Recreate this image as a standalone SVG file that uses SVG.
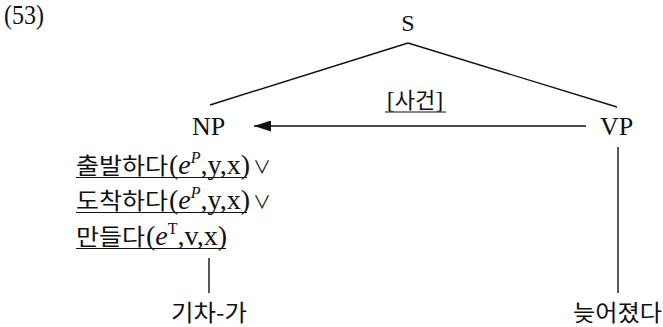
<svg xmlns="http://www.w3.org/2000/svg" width="663" height="327" viewBox="0 0 663 327">
  <style>
    .lat { font-family: "Liberation Serif", "Times New Roman", serif; fill: #111; }
    .kr { font-family: "Noto Sans CJK KR", "Noto Sans", sans-serif; fill: #111; }
    .it { font-style: italic; }
    .edge { stroke: #111; stroke-width: 1.4; fill: none; }
    .ul { stroke: #111; stroke-width: 1.2; }
  </style>
  <defs>
    <marker id="head" viewBox="0 0 17 11" refX="17" refY="5.5" markerWidth="17" markerHeight="11" markerUnits="userSpaceOnUse" orient="auto">
      <path d="M0,0 L17,5.5 L0,11 Z" fill="#111"/>
    </marker>
  </defs>
  <rect width="663" height="327" fill="#fff"/>

  <!-- example number -->
  <g id="num">
    <text class="lat" x="4" y="24" font-size="28" textLength="40" lengthAdjust="spacingAndGlyphs">(53)</text>
  </g>

  <!-- tree nodes -->
  <g id="node-S">
    <text class="lat" x="408" y="31" font-size="24" text-anchor="middle">S</text>
  </g>
  <g id="node-NP">
    <text class="lat" x="192" y="135" font-size="26">NP</text>
  </g>
  <g id="node-VP">
    <text class="lat" x="600" y="135" font-size="26">VP</text>
  </g>

  <!-- semantic features under NP -->
  <g id="np-features">
    <text class="kr" x="76" y="174" font-size="23" textLength="92" lengthAdjust="spacingAndGlyphs">출발하다</text>
    <text class="lat" x="169" y="174" font-size="28">(<tspan class="it">e</tspan><tspan class="it" font-size="16" dy="-11">P</tspan><tspan dy="11">,y,x)</tspan></text>
    <text class="kr" x="253" y="174" font-size="18">∨</text>
    <line class="ul" x1="76" y1="177.5" x2="247" y2="177.5"/>

    <text class="kr" x="76" y="209" font-size="23" textLength="92" lengthAdjust="spacingAndGlyphs">도착하다</text>
    <text class="lat" x="169" y="209" font-size="28">(<tspan class="it">e</tspan><tspan class="it" font-size="16" dy="-11">P</tspan><tspan dy="11">,y,x)</tspan></text>
    <text class="kr" x="253" y="209" font-size="18">∨</text>
    <line class="ul" x1="76" y1="212.5" x2="247" y2="212.5"/>

    <text class="kr" x="76" y="245" font-size="23" textLength="69" lengthAdjust="spacingAndGlyphs">만들다</text>
    <text class="lat" x="146" y="245" font-size="28">(<tspan class="it">e</tspan><tspan font-size="16" dy="-11">T</tspan><tspan dy="11">,v,x)</tspan></text>
    <line class="ul" x1="76" y1="248.5" x2="226" y2="248.5"/>
  </g>

  <!-- leaves -->
  <g id="leaf-NP">
    <text class="kr" x="171" y="321" font-size="23" textLength="76" lengthAdjust="spacingAndGlyphs">기차-가</text>
  </g>
  <g id="leaf-VP">
    <text class="kr" x="573" y="321" font-size="23" textLength="89" lengthAdjust="spacingAndGlyphs">늦어졌다</text>
  </g>

  <!-- relation label -->
  <g id="rel-label">
    <text x="415" y="108" text-anchor="middle"><tspan class="lat" font-size="24">[</tspan><tspan class="kr" font-size="22">사건</tspan><tspan class="lat" font-size="24">]</tspan></text>
    <line class="ul" x1="385" y1="112" x2="446" y2="112"/>
  </g>

  <!-- connectors -->
  <g id="connectors">
    <line class="edge" x1="408" y1="43" x2="210" y2="105"/>
    <line class="edge" x1="408" y1="43" x2="617" y2="107"/>
    <line class="edge" x1="586" y1="126" x2="254" y2="126" marker-end="url(#head)"/>
    <line class="edge" x1="618" y1="147" x2="618" y2="293"/>
    <line class="edge" x1="209" y1="258" x2="209" y2="293"/>
  </g>
</svg>
